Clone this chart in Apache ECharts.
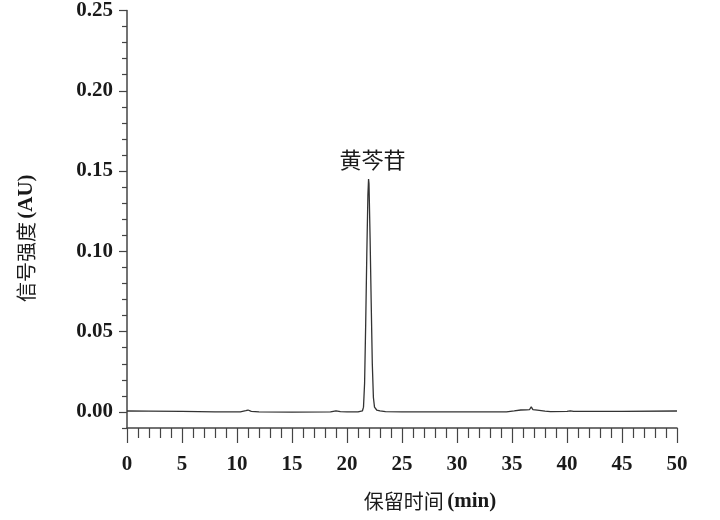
<!DOCTYPE html>
<html>
<head>
<meta charset="utf-8">
<title>黄芩苷 色谱图</title>
<script src="https://cdn.jsdelivr.net/npm/echarts@6.0.0/dist/echarts.min.js"></script>
<style>
  html, body { margin: 0; padding: 0; background: #fff; }
  #main { width: 720px; height: 520px; }
</style>
</head>
<body>
<div id="main"></div>
<script>
// 保留时间 (min)
var times = [0, 2, 5, 8, 10.3, 10.8, 11.0, 11.3, 12, 15, 18.5, 19.0, 19.4, 20, 21.0,
  21.4, 21.5, 21.6, 21.7, 21.8, 21.9, 21.96, 22.0, 22.1, 22.2, 22.3, 22.4, 22.5, 22.7,
  23.0, 23.5, 25, 30, 34.5, 35.2, 35.8, 36.3, 36.6, 36.75, 36.9, 37.3, 38.0, 38.5,
  40.0, 40.3, 40.6, 45, 50];
// 信号强度 (AU)
var signal = [0.0006, 0.0005, 0.0003, 0.0001, 0.0, 0.0008, 0.0012, 0.0003, 0.0, -0.0001, 0.0, 0.0007, 0.0002, 0.0, 0.0,
  0.0006, 0.003, 0.018, 0.055, 0.098, 0.135, 0.145, 0.142, 0.108, 0.068, 0.030, 0.009, 0.003, 0.0012,
  0.0006, 0.0002, 0.0, 0.0, 0.0, 0.0006, 0.0012, 0.0013, 0.0015, 0.0032, 0.0014, 0.0011, 0.0005, 0.0002,
  0.0003, 0.0007, 0.0003, 0.0004, 0.0006];
var peakName = "黄芩苷";

// 刻度
var yMajorTicks = [0, 0.05, 0.1, 0.15, 0.2, 0.25];
var yMinorTicks = [-0.01, 0.01, 0.02, 0.03, 0.04, 0.06, 0.07, 0.08, 0.09, 0.11, 0.12, 0.13, 0.14,
  0.16, 0.17, 0.18, 0.19, 0.21, 0.22, 0.23, 0.24];
var xMajorTicks = [0, 5, 10, 15, 20, 25, 30, 35, 40, 45, 50];

var axisColor = "#444";
var textColor = "#1a1a1a";
var serif = "'Liberation Serif', 'Times New Roman', serif";
var cjk = "'Noto Sans CJK SC', sans-serif";

var peakIdx = signal.indexOf(Math.max.apply(null, signal));

var option = {
  animation: false,
  backgroundColor: "#fff",
  grid: {
    left: 127,
    right: 43,
    top: 10,
    bottom: 92,
  },
  xAxis: {
    type: "value",
    min: 0,
    max: 50,
    interval: 5,
    name: "{cn|保留时间} {en|(min)}",
    nameLocation: "middle",
    nameGap: 63,
    nameTextStyle: {
      padding: [0, 0, 0, 56],
      rich: {
        cn: { fontFamily: cjk, fontSize: 20, color: textColor },
        en: { fontFamily: serif, fontWeight: "bold", fontSize: 21, color: textColor },
      },
    },
    axisLine: { onZero: false, lineStyle: { color: axisColor, width: 1.5 } },
    axisTick: { length: 15, lineStyle: { color: axisColor, width: 1.2 } },
    minorTick: { show: true, splitNumber: 5, length: 10, lineStyle: { color: axisColor, width: 1.2 } },
    axisLabel: {
      margin: 26,
      fontFamily: serif,
      fontWeight: "bold",
      fontSize: 21,
      color: textColor,
      customValues: xMajorTicks,
    },
    splitLine: { show: false },
  },
  yAxis: [
    {
      type: "value",
      min: -0.01,
      max: 0.25,
      position: "left",
      name: "{cn|信号强度} {en|(AU)}",
      nameLocation: "middle",
      nameGap: 90,
      nameTextStyle: {
        padding: [0, 38, 0, 0],
        rich: {
          cn: { fontFamily: cjk, fontSize: 20, color: textColor },
          en: { fontFamily: serif, fontWeight: "bold", fontSize: 21, color: textColor },
        },
      },
      axisLine: { show: true, lineStyle: { color: axisColor, width: 1.5 } },
      axisTick: { show: true, length: 8, customValues: yMajorTicks, lineStyle: { color: axisColor, width: 1.2 } },
      axisLabel: {
        margin: 14,
        fontFamily: serif,
        fontWeight: "bold",
        fontSize: 21,
        color: textColor,
        customValues: yMajorTicks,
        formatter: function (v) {
          return v.toFixed(2);
        },
      },
      splitLine: { show: false },
    },
    {
      // 次刻度
      type: "value",
      min: -0.01,
      max: 0.25,
      position: "left",
      axisLine: { show: false },
      axisTick: { show: true, length: 5, customValues: yMinorTicks, lineStyle: { color: axisColor, width: 1.2 } },
      axisLabel: { show: false },
      splitLine: { show: false },
    },
  ],
  series: [
    {
      type: "line",
      yAxisIndex: 0,
      data: times.map(function (t, i) {
        return [t, signal[i]];
      }),
      showSymbol: false,
      symbol: "none",
      lineStyle: { color: "#333", width: 1.3 },
      markPoint: {
        symbol: "circle",
        symbolSize: 0,
        label: {
          show: true,
          position: "top",
          distance: 8,
          offset: [4, 0],
          formatter: peakName,
          fontFamily: cjk,
          fontSize: 22,
          color: textColor,
        },
        data: [{ coord: [times[peakIdx], signal[peakIdx]] }],
      },
    },
  ],
};

var myChart = echarts.init(document.getElementById("main"));
myChart.setOption(option);
</script>
</body>
</html>
